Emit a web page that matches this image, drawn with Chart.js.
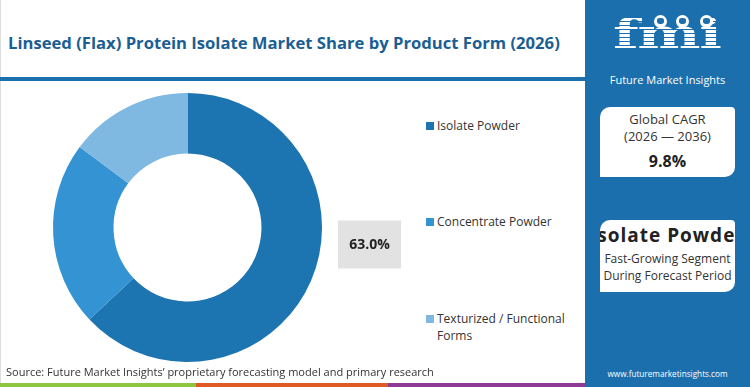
<!DOCTYPE html>
<html>
<head>
<meta charset="utf-8">
<script src="https://cdn.jsdelivr.net/npm/chart.js@4.4.1/dist/chart.umd.min.js"></script>
<style>
  html, body { margin: 0; padding: 0; }
  body { width: 750px; height: 387px; position: relative; overflow: hidden; background: #fff; font-family: 'Open Sans', sans-serif; }
  #title { position: absolute; left: 8px; top: 32px; font: 700 16px 'Open Sans', sans-serif; color: #1b5e94; white-space: nowrap; transform-origin: 0 0; }
  #rule { position: absolute; left: 0; top: 77px; width: 586px; height: 4px; background: #1b6fad; }
  #leftEdge { position: absolute; left: 0; top: 0; width: 1px; height: 383px; background: #ddd; }
  #chartWrap { position: absolute; left: 0; top: 86px; width: 420px; height: 282px; }
  #legend { position: absolute; left: 426px; top: 0; }
  .lg { position: absolute; left: 0; width: 160px; font: 12px 'Open Sans', sans-serif; color: #333; line-height: 17px; padding-left: 11px; white-space: nowrap; }
  .lg i { position: absolute; left: 0; top: 5px; width: 8px; height: 8px; }
  #source { position: absolute; left: 6px; top: 364px; font: 11px 'Open Sans', sans-serif; color: #333; white-space: nowrap; }
  #stripe { position: absolute; left: 0; top: 383px; height: 4px; width: 586px; display: flex; }
  #stripe div { height: 4px; }
  #panel { position: absolute; left: 585px; top: 0; width: 165px; height: 387px; background: #1b6fad; }
  #fmi { position: absolute; left: 28px; top: 14px; font: 700 41px 'DejaVu Serif', serif; line-height: 41px; letter-spacing: -1px;
         color: transparent; background: repeating-linear-gradient(#fff 0 3px, #1b6fad 3px 4px);
         -webkit-background-clip: text; background-clip: text; transform: scaleX(1.46); transform-origin: 0 0; }
  .globe { position: absolute; top: 15px; width: 13px; height: 13px; border-radius: 50%; background: #fff; }
  .globe::after { content: ''; position: absolute; left: 3px; top: 3px; width: 7px; height: 6px; border-radius: 40%; background: #1b6fad; }
  #fmiName { position: absolute; left: 0; top: 72px; width: 165px; text-align: center; font: 11px 'Open Sans', sans-serif; color: #fff; }
  .card { position: absolute; left: 15px; width: 135px; background: #fff; border-radius: 10px 4px 10px 0; text-align: center; color: #222; overflow: hidden; }
  #card1 { top: 107px; height: 70px; }
  #card2 { top: 220px; height: 72px; }
  #url { position: absolute; left: 0; width: 165px; top: 368px; text-align: center; font: 8.2px 'Open Sans', sans-serif; color: #fff; }
</style>
</head>
<body>
<div id="leftEdge"></div>
<div id="title">Linseed (Flax) Protein Isolate Market Share by Product Form (2026)</div>
<div id="rule"></div>
<div id="chartWrap"><canvas id="donut"></canvas></div>
<div id="legend"></div>
<div id="source">Source: Future Market Insights’ proprietary forecasting model and primary research</div>
<div id="stripe">
  <div style="width:196px;background:#8dc63f"></div>
  <div style="width:192px;background:#e05a26"></div>
  <div style="width:198px;background:#8e3a96"></div>
</div>
<div id="panel">
  <div id="fmi">fmi</div>
  <div class="globe" style="left:69px"></div>
  <div class="globe" style="left:91px"></div>
  <div class="globe" style="left:115px"></div>
  <div id="fmiName">Future Market Insights</div>
  <div class="card" id="card1">
    <div style="font:13px 'Open Sans',sans-serif;margin-top:4px;line-height:17px;color:#333">Global CAGR<br>(2026 — 2036)</div>
    <div style="font:700 16px 'Open Sans',sans-serif;margin-top:5px">9.8%</div>
  </div>
  <div class="card" id="card2">
    <div style="font:700 19px 'Open Sans',sans-serif;letter-spacing:1px;margin-top:2px;white-space:nowrap;margin-left:-40px;margin-right:-40px">Isolate Powder</div>
    <div style="font:12px 'Open Sans',sans-serif;margin-top:2px;line-height:17px;white-space:nowrap;color:#333">Fast-Growing Segment<br>During Forecast Period</div>
  </div>
  <div id="url">www.futuremarketinsights.com</div>
</div>
<script>
const categories = ['Isolate Powder', 'Concentrate Powder', 'Texturized / Functional Forms'];
const shares     = [63.0, 22.2, 14.8];
const colors     = ['#1c74b0', '#3393d3', '#7fb8e0'];
const legendTops = [117, 213, 310];

// fit title to the reference width
const title = document.getElementById('title');
title.style.transform = 'scaleX(' + (552 / title.offsetWidth) + ')';

// ── Legend (HTML, from categories) ───────────────────────────────────────
const legend = document.getElementById('legend');
categories.forEach((c, i) => {
  const d = document.createElement('div');
  d.className = 'lg';
  d.style.top = legendTops[i] + 'px';
  d.innerHTML = '<i style="background:' + colors[i] + '"></i>' + c.replace('Functional ', 'Functional<br>');
  legend.appendChild(d);
});

// ── Share label box to the right of the donut ────────────────────────────
const shareLabel = {
  id: 'shareLabel',
  afterDatasetsDraw(chart) {
    const arc = chart.getDatasetMeta(0).data[0];
    if (!arc) return;
    const { ctx } = chart;
    const x = arc.x + arc.outerRadius + 16;
    const y = arc.y - 7;
    ctx.save();
    ctx.fillStyle = '#e2e2e2';
    ctx.fillRect(x, y, 63, 48);
    ctx.fillStyle = '#222';
    ctx.font = "bold 14px 'Open Sans', sans-serif";
    ctx.textAlign = 'center';
    ctx.textBaseline = 'middle';
    ctx.fillText(shares[0].toFixed(1) + '%', x + 31.5, y + 25);
    ctx.restore();
  },
};

new Chart(document.getElementById('donut'), {
  type: 'doughnut',
  data: {
    labels: categories,
    datasets: [{
      data: shares,
      backgroundColor: colors,
      borderWidth: 0,
    }],
  },
  options: {
    responsive: true,
    maintainAspectRatio: false,
    animation: false,
    cutout: '55%',
    layout: { padding: { left: 53, right: 98, top: 7, bottom: 6 } },
    plugins: { legend: { display: false }, tooltip: { enabled: false } },
  },
  plugins: [shareLabel],
});
</script>
</body>
</html>
